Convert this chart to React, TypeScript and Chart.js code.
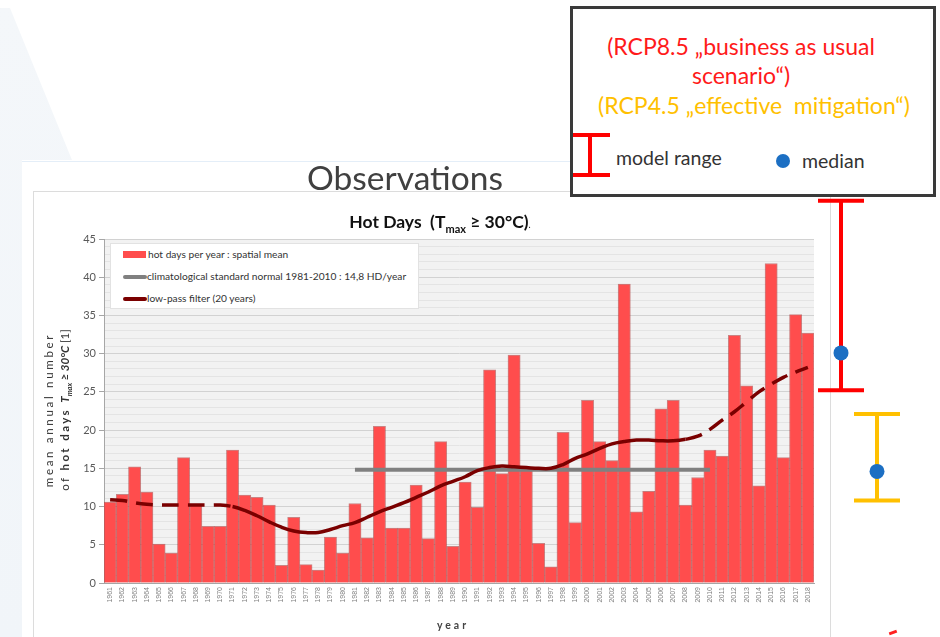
import React, { useEffect, useRef } from 'react';
import { Chart, registerables } from 'chart.js';

Chart.register(...registerables);

const years = [
  '1961', '1962', '1963', '1964', '1965', '1966', '1967', '1968', '1969', '1970',
  '1971', '1972', '1973', '1974', '1975', '1976', '1977', '1978', '1979', '1980',
  '1981', '1982', '1983', '1984', '1985', '1986', '1987', '1988', '1989', '1990',
  '1991', '1992', '1993', '1994', '1995', '1996', '1997', '1998', '1999', '2000',
  '2001', '2002', '2003', '2004', '2005', '2006', '2007', '2008', '2009', '2010',
  '2011', '2012', '2013', '2014', '2015', '2016', '2017', '2018',
];

const hotDays = [
  10.6, 11.6, 15.2, 11.9, 5.1, 3.9, 16.4, 10.2, 7.4, 7.4,
  17.4, 11.5, 11.2, 10.2, 2.3, 8.6, 2.4, 1.7, 6.0, 3.9,
  10.4, 5.9, 20.5, 7.2, 7.2, 12.8, 5.8, 18.5, 4.8, 13.2,
  9.9, 27.9, 14.3, 29.8, 14.8, 5.2, 2.1, 19.7, 7.9, 23.9,
  18.5, 16.0, 39.1, 9.3, 12.0, 22.8, 23.9, 10.2, 13.8, 17.4,
  16.6, 32.4, 25.8, 12.7, 41.8, 16.4, 35.1, 32.7,
];

const lowPass = [
  10.9, 10.8, 10.5, 10.3, 10.2, 10.2, 10.2, 10.2, 10.2, 10.2,
  10.0, 9.5, 8.8, 8.0, 7.3, 6.8, 6.6, 6.6, 7.0, 7.5,
  7.9, 8.6, 9.3, 9.9, 10.5, 11.2, 11.9, 12.7, 13.3, 13.9,
  14.7, 15.1, 15.3, 15.2, 15.1, 15.0, 15.0, 15.5, 16.3, 16.9,
  17.6, 18.2, 18.5, 18.7, 18.7, 18.6, 18.6, 18.8, 19.2, 20.1,
  21.3, 22.4, 23.7, 25.0, 26.0, 26.9, 27.6, 28.2,
];

// low-pass shown solid only between these years, dashed elsewhere
const lowPassSolidFrom = '1971';
const lowPassSolidTo = '2008';

const normalValue = 14.8;
const normalFrom = '1981';
const normalTo = '2010';

const yMin = 0;
const yMax = 45;
const yMajorStep = 5;

// projections (model range and median)
const projNames = ['RCP8.5', 'RCP4.5'];
const projLow = [25.2, 10.8];
const projHigh = [50.0, 22.1];
const projMedian = [30.1, 14.6];
const projColors = ['#ff0000', '#ffc000'];

const normalSeries = years.map((y) =>
  Number(y) >= Number(normalFrom) && Number(y) <= Number(normalTo) ? normalValue : null
);

const solidFromIdx = years.indexOf(lowPassSolidFrom);
const solidToIdx = years.indexOf(lowPassSolidTo);

const plotBgPlugin = {
  id: 'plotBg',
  beforeDraw(chart: any) {
    const { ctx, chartArea } = chart;
    ctx.save();
    ctx.fillStyle = '#f2f2f2';
    ctx.fillRect(chartArea.left, chartArea.top, chartArea.right - chartArea.left, chartArea.bottom - chartArea.top);
    ctx.restore();
  },
};

const projectionPlugin = {
  id: 'projections',
  afterDatasetsDraw(chart: any) {
    const { ctx, chartArea } = chart;
    const y = chart.scales.y;
    const offsets = [27, 63];
    projNames.forEach((_, i) => {
      const x = chartArea.right + offsets[i];
      const yl = y.getPixelForValue(projLow[i]);
      const yh = y.getPixelForValue(projHigh[i]);
      const ym = y.getPixelForValue(projMedian[i]);
      ctx.save();
      ctx.strokeStyle = projColors[i];
      ctx.lineWidth = 4;
      ctx.beginPath();
      ctx.moveTo(x, yh);
      ctx.lineTo(x, yl);
      ctx.moveTo(x - 23, yh);
      ctx.lineTo(x + 23, yh);
      ctx.moveTo(x - 23, yl);
      ctx.lineTo(x + 23, yl);
      ctx.stroke();
      ctx.fillStyle = '#1c6fc3';
      ctx.beginPath();
      ctx.arc(x, ym, 7.5, 0, Math.PI * 2);
      ctx.fill();
      ctx.restore();
    });
  },
};

function ChartCanvas() {
  const ref = useRef<HTMLCanvasElement | null>(null);
  useEffect(() => {
    if (!ref.current) return;
    const chart = new Chart(ref.current, {
      type: 'bar',
      data: {
        labels: years,
        datasets: [
          {
            type: 'line',
            label: 'low-pass filter (20 years)',
            data: lowPass,
            borderColor: '#7a0000',
            borderWidth: 3.5,
            pointRadius: 0,
            tension: 0.4,
            order: 1,
            segment: {
              borderDash: (c: any) =>
                c.p0DataIndex < solidFromIdx || c.p0DataIndex >= solidToIdx ? [17, 9] : undefined,
            },
          } as any,
          {
            type: 'line',
            label: 'climatological standard normal 1981-2010 : 14,8 HD/year',
            data: normalSeries,
            borderColor: '#808080',
            borderWidth: 4,
            pointRadius: 0,
            spanGaps: false,
            order: 2,
          } as any,
          {
            type: 'bar',
            label: 'hot days per year : spatial mean',
            data: hotDays,
            backgroundColor: '#ff4d4d',
            borderColor: 'rgba(170,40,40,0.55)',
            borderWidth: 1,
            barPercentage: 1,
            categoryPercentage: 1,
            order: 3,
          } as any,
        ],
      },
      options: {
        responsive: false,
        animation: false,
        devicePixelRatio: 1,
        layout: { padding: { top: 239, right: 126, bottom: 0, left: 0 } },
        plugins: { legend: { display: false }, tooltip: { enabled: false } },
        scales: {
          x: {
            offset: true,
            grid: { display: true, color: 'transparent', drawTicks: false, drawOnChartArea: false },
            border: { color: '#a6a6a6' },
            ticks: {
              autoSkip: false,
              minRotation: 90,
              maxRotation: 90,
              padding: 4,
              color: '#808080',
              font: { size: 7, family: 'Liberation Sans' },
            },
            afterFit: (s: any) => {
              s.height = 54;
            },
          },
          y: {
            min: yMin,
            max: yMax,
            ticks: {
              stepSize: 1,
              autoSkip: false,
              padding: 3,
              color: '#595959',
              font: { size: 11, family: 'Lato' },
              callback: (v: any) => (Number(v) % yMajorStep === 0 ? String(v) : ''),
            },
            grid: {
              color: (c: any) => (c.tick && c.tick.value % yMajorStep === 0 ? '#d2d2d2' : '#e4e4e4'),
              tickColor: (c: any) => (c.tick && c.tick.value % yMajorStep === 0 ? '#a6a6a6' : 'transparent'),
              tickLength: 5,
            },
            border: { color: '#a6a6a6' },
            afterFit: (s: any) => {
              s.width = 104;
            },
          },
        },
      } as any,
      plugins: [plotBgPlugin, projectionPlugin],
    });
    return () => chart.destroy();
  }, []);
  return (
    <canvas
      ref={ref}
      width={940}
      height={637}
      style={{ position: 'absolute', left: 0, top: 0, width: 940, height: 637, zIndex: 1 }}
    />
  );
}

const abs = (s: React.CSSProperties): React.CSSProperties => ({ position: 'absolute', ...s });

export default function App() {
  useEffect(() => {
    document.body.style.margin = '0';
  }, []);
  const lato = 'Lato, "Open Sans", sans-serif';
  return (
    <div style={{ position: 'relative', width: 940, height: 637, overflow: 'hidden', background: '#fff', fontFamily: lato }}>
      {/* faint slide decoration */}
      <div
        style={abs({
          left: 0,
          top: 0,
          width: 110,
          height: 637,
          background: 'linear-gradient(180deg, #f4f7fa, #f1f5f9)',
          clipPath: 'polygon(0 8px, 10px 8px, 72px 160px, 22px 160px, 22px 637px, 0 637px)',
          zIndex: 0,
        })}
      />
      {/* slide picture area */}
      <div style={abs({ left: 22, top: 161, width: 870, height: 480, background: '#fff', borderTop: '1px solid #e4eef8', zIndex: 0 })} />
      {/* chart box */}
      <div style={abs({ left: 33, top: 191, width: 796, height: 460, background: '#fff', border: '1px solid #dcdcdc', zIndex: 0 })} />

      <ChartCanvas />

      {/* Observations */}
      <div style={abs({ left: 405, top: 157, transform: 'translateX(-50%)', fontSize: 33.5, lineHeight: '40px', color: '#404040', whiteSpace: 'nowrap', zIndex: 2 })}>
        Observations
      </div>

      {/* chart title */}
      <div style={abs({ left: 440, top: 210, transform: 'translateX(-50%)', fontSize: 17.5, lineHeight: '24px', fontWeight: 700, color: '#111', whiteSpace: 'nowrap', zIndex: 2 })}>
        Hot Days&nbsp; (T<sub style={{ fontSize: 11 }}>max</sub> ≥ 30°C)<span style={{ fontSize: 9, fontWeight: 400 }}>.</span>
      </div>

      {/* legend */}
      <div style={abs({ left: 110, top: 243, width: 307, height: 64, background: '#fff', border: '1px solid #e2e2e2', zIndex: 2, fontSize: 10.2, color: '#333' })}>
        <div style={abs({ left: 12, top: 7, width: 23, height: 7, background: '#ff4d4d' })} />
        <div style={abs({ left: 37, top: 3.5, lineHeight: '13px', whiteSpace: 'nowrap' })}>hot days per year : spatial mean</div>
        <div style={abs({ left: 12, top: 31, width: 24, height: 4, borderRadius: 2, background: '#808080' })} />
        <div style={abs({ left: 36, top: 25.5, lineHeight: '13px', whiteSpace: 'nowrap' })}>climatological standard normal 1981-2010 : 14,8 HD/year</div>
        <div style={abs({ left: 12, top: 53, width: 24, height: 4, borderRadius: 2, background: '#7a0000' })} />
        <div style={abs({ left: 36, top: 47.5, lineHeight: '13px', whiteSpace: 'nowrap' })}>low-pass filter (20 years)</div>
      </div>

      {/* y axis title */}
      <div
        style={abs({
          left: 58 - 110,
          top: 410 - 17,
          width: 220,
          height: 34,
          transform: 'rotate(-90deg)',
          transformOrigin: '50% 50%',
          textAlign: 'center',
          fontSize: 11.5,
          lineHeight: '16px',
          color: '#333',
          whiteSpace: 'nowrap',
          zIndex: 2,
        })}
      >
        <div style={{ letterSpacing: 2.7 }}>mean annual number</div>
        <div>
          <span style={{ letterSpacing: 2.4 }}>of </span>
          <b style={{ letterSpacing: 2.4 }}>hot days </b>
          <b><i>T<sub style={{ fontSize: 7.5 }}>max</sub> ≥ 30°C</i></b> [1]
        </div>
      </div>

      {/* x axis title */}
      <div style={abs({ left: 453, top: 618, transform: 'translateX(-50%)', fontSize: 10.5, lineHeight: '14px', fontWeight: 700, letterSpacing: 3, color: '#444', zIndex: 2 })}>
        year
      </div>

      {/* projection legend box */}
      <div style={abs({ left: 570, top: 6, width: 360, height: 185, border: '3px solid #3a3a3a', background: '#fff', zIndex: 3 })}>
        <div style={abs({ left: 741 - 573, top: 45.5 - 9 - 14, transform: 'translateX(-50%)', fontSize: 23, lineHeight: '28px', color: '#ff1a1a', whiteSpace: 'nowrap' })}>
          (RCP8.5 „business as usual
        </div>
        <div style={abs({ left: 741 - 573, top: 75 - 9 - 14, transform: 'translateX(-50%)', fontSize: 23, lineHeight: '28px', color: '#ff1a1a', whiteSpace: 'nowrap' })}>
          scenario“)
        </div>
        <div style={abs({ left: 754 - 573, top: 105 - 9 - 14, transform: 'translateX(-50%)', fontSize: 23, lineHeight: '28px', color: '#ffc000', whiteSpace: 'nowrap' })}>
          (RCP4.5 „effective&nbsp; mitigation“)
        </div>
        {/* I-beam */}
        <div style={abs({ left: 588 - 573, top: 135 - 9, width: 4, height: 40, background: '#ff0000' })} />
        <div style={abs({ left: 573 - 573, top: 133 - 9, width: 37, height: 4, background: '#ff0000' })} />
        <div style={abs({ left: 573 - 573, top: 173 - 9, width: 37, height: 4, background: '#ff0000' })} />
        <div style={abs({ left: 616 - 573, top: 158 - 9 - 12, fontSize: 19.5, lineHeight: '24px', color: '#333', whiteSpace: 'nowrap' })}>model range</div>
        <div style={abs({ left: 783 - 573 - 7, top: 161 - 9 - 7, width: 14, height: 14, borderRadius: 7, background: '#1c6fc3' })} />
        <div style={abs({ left: 802 - 573, top: 161 - 9 - 12, fontSize: 19.5, lineHeight: '24px', color: '#333', whiteSpace: 'nowrap' })}>median</div>
      </div>

      {/* small red mark bottom right */}
      <div style={abs({ left: 889, top: 631, width: 8, height: 3, background: '#ff2020', transform: 'rotate(-20deg)', zIndex: 2 })} />
    </div>
  );
}
